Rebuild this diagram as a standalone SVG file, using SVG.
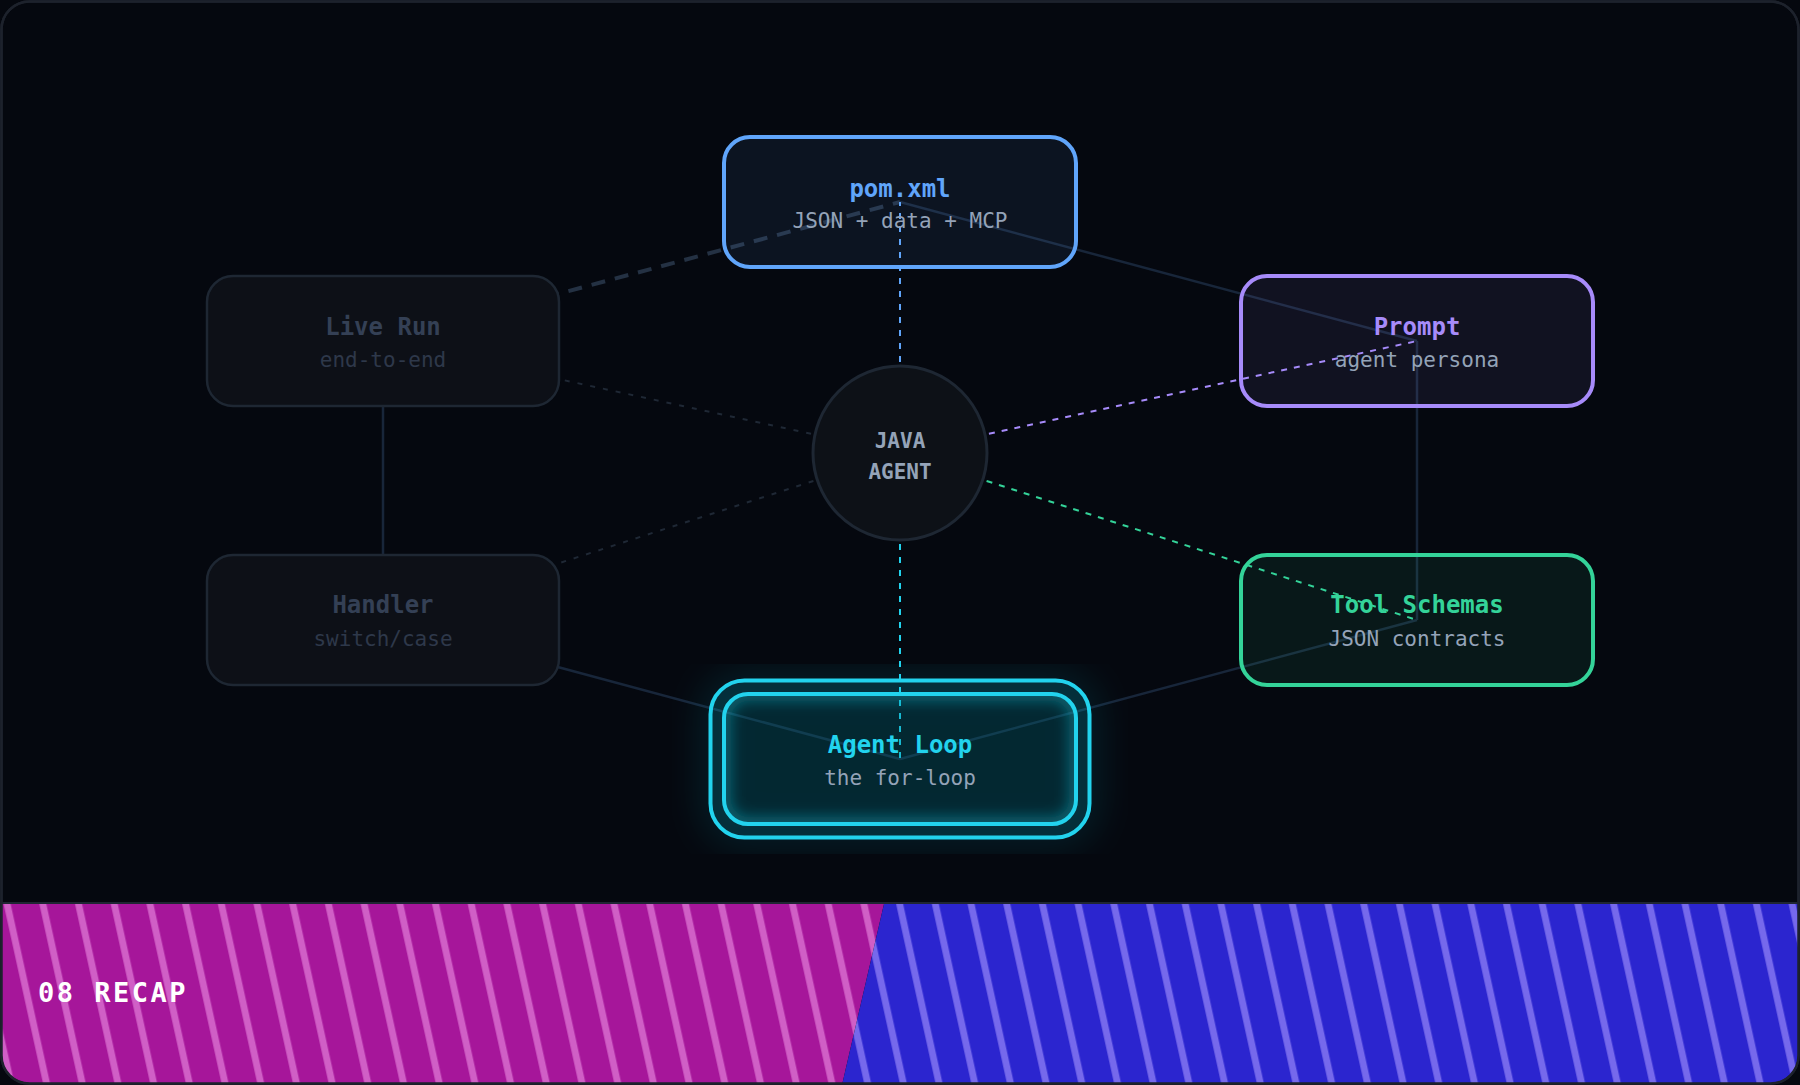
<svg xmlns="http://www.w3.org/2000/svg" width="1800" height="1085" viewBox="0 0 1800 1085">
  <style>
    text { font-family: "DejaVu Sans Mono", "Liberation Mono", monospace; text-anchor: middle; }
    .title { font-size: 24px; font-weight: 700; }
    .sub { font-size: 21px; fill: #94a3b8; }
    .dimtitle { font-size: 24px; font-weight: 700; fill: #344055; }
    .dimsub { font-size: 21px; fill: #2e384a; }
    .edge { stroke: #18263a; stroke-width: 2.5; fill: none; }
    .edge-dash { stroke: #243143; stroke-width: 4; fill: none; stroke-dasharray: 14 10; }
    .spoke { stroke-width: 2; fill: none; stroke-dasharray: 6 7; }
    .spoke-dim { stroke: #1f2835; stroke-width: 2; fill: none; stroke-dasharray: 5 8; }
    .dimbox { fill: #0d1017; stroke: #1e2733; stroke-width: 2.5; }
  </style>
  <defs>
    <clipPath id="frameClip">
      <rect x="2" y="2" width="1796" height="1081" rx="28"/>
    </clipPath>
    <clipPath id="loopInnerClip">
      <rect x="724" y="694" width="352" height="130" rx="24"/>
    </clipPath>
    <pattern id="stripesPink" patternUnits="userSpaceOnUse" width="35.7" height="20" patternTransform="skewX(12.4)">
      <rect x="0" y="0" width="35.7" height="20" fill="#a6169a"/>
      <rect x="19.1" y="0" width="7" height="20" fill="#d05fc6"/>
    </pattern>
    <pattern id="stripesBlue" patternUnits="userSpaceOnUse" width="35.7" height="20" patternTransform="skewX(12.4)">
      <rect x="0" y="0" width="35.7" height="20" fill="#2b25cf"/>
      <rect x="19.1" y="0" width="7" height="20" fill="#7669ec"/>
    </pattern>
    <filter id="glow">
      <feGaussianBlur in="SourceAlpha" stdDeviation="18" result="b"/>
      <feFlood flood-color="#22d3ee" flood-opacity="0.5"/>
      <feComposite in2="b" operator="in" result="g"/>
      <feMerge>
        <feMergeNode in="g"/>
        <feMergeNode in="SourceGraphic"/>
      </feMerge>
    </filter>
    <filter id="soft" x="-20%" y="-20%" width="140%" height="140%">
      <feGaussianBlur stdDeviation="7"/>
    </filter>
  </defs>

  <!-- background frame -->
  <rect x="0" y="0" width="1800" height="1085" fill="#05080f"/>
  <rect x="1.5" y="1.5" width="1797" height="1082" rx="28" fill="#05080f" stroke="#1d222c" stroke-width="2.5"/>

  <!-- connectors -->
  <g id="connectors">
    <line class="edge" x1="900" y1="202" x2="1417" y2="341"/>
    <line class="edge" x1="1417" y1="341" x2="1417" y2="620"/>
    <line class="edge" x1="1417" y1="620" x2="900" y2="759"/>
    <line class="edge" x1="900" y1="759" x2="383" y2="620"/>
    <line class="edge" x1="383" y1="620" x2="383" y2="341"/>
    <line class="edge-dash" x1="383" y1="341" x2="900" y2="202"/>
    <line class="spoke" stroke="#60a5fa" x1="900" y1="453" x2="900" y2="202"/>
    <line class="spoke" stroke="#a78bfa" x1="900" y1="453" x2="1417" y2="341"/>
    <line class="spoke" stroke="#34d399" x1="900" y1="453" x2="1417" y2="620"/>
    <line class="spoke" stroke="#22d3ee" x1="900" y1="453" x2="900" y2="759"/>
    <line class="spoke-dim" x1="900" y1="453" x2="383" y2="341"/>
    <line class="spoke-dim" x1="900" y1="453" x2="383" y2="620"/>
  </g>

  <!-- center hub -->
  <g id="hub">
    <circle cx="900" cy="453" r="87" fill="#0d1117" stroke="#1e2733" stroke-width="3"/>
    <text x="900" y="448" style="font-size:21px;font-weight:700;fill:#94a3b8">JAVA</text>
    <text x="900" y="479" style="font-size:21px;font-weight:700;fill:#94a3b8">AGENT</text>
  </g>

  <!-- pom.xml -->
  <g id="node-pom">
    <rect x="724" y="137" width="352" height="130" rx="26" fill="#60a5fa" fill-opacity="0.08" stroke="#60a5fa" stroke-width="4"/>
    <text class="title" x="900" y="197" fill="#60a5fa">pom.xml</text>
    <text class="sub" x="900" y="228">JSON + data + MCP</text>
  </g>

  <!-- Prompt -->
  <g id="node-prompt">
    <rect x="1241" y="276" width="352" height="130" rx="26" fill="#a78bfa" fill-opacity="0.08" stroke="#a78bfa" stroke-width="4"/>
    <text class="title" x="1417" y="335" fill="#a78bfa">Prompt</text>
    <text class="sub" x="1417" y="367">agent persona</text>
  </g>

  <!-- Tool Schemas -->
  <g id="node-tools">
    <rect x="1241" y="555" width="352" height="130" rx="26" fill="#34d399" fill-opacity="0.08" stroke="#34d399" stroke-width="4"/>
    <text class="title" x="1417" y="613" fill="#34d399">Tool Schemas</text>
    <text class="sub" x="1417" y="646">JSON contracts</text>
  </g>

  <!-- Live Run -->
  <g id="node-liverun">
    <rect class="dimbox" x="207" y="276" width="352" height="130" rx="26"/>
    <text class="dimtitle" x="383" y="335">Live Run</text>
    <text class="dimsub" x="383" y="367">end-to-end</text>
  </g>

  <!-- Handler -->
  <g id="node-handler">
    <rect class="dimbox" x="207" y="555" width="352" height="130" rx="26"/>
    <text class="dimtitle" x="383" y="613">Handler</text>
    <text class="dimsub" x="383" y="646">switch/case</text>
  </g>

  <!-- Agent Loop (active) -->
  <g id="node-loop">
    <rect x="710.5" y="680.5" width="379" height="157" rx="34" fill="#22d3ee" fill-opacity="0.13" stroke="#22d3ee" stroke-width="4" filter="url(#glow)"/>
    <g clip-path="url(#loopInnerClip)">
      <rect x="724" y="694" width="352" height="130" rx="24" fill="#000000" fill-opacity="0.12"/>
      <rect x="724" y="694" width="352" height="130" rx="24" fill="none" stroke="#22d3ee" stroke-opacity="0.35" stroke-width="14" filter="url(#soft)"/>
    </g>
    <rect x="724" y="694" width="352" height="130" rx="24" fill="none" stroke="#22d3ee" stroke-width="4"/>
    <text class="title" x="900" y="753" fill="#22d3ee">Agent Loop</text>
    <text class="sub" x="900" y="785">the for-loop</text>
  </g>

  <!-- bottom banner -->
  <g id="banner" clip-path="url(#frameClip)">
    <polygon points="0,904 884,904 842,1085 0,1085" fill="url(#stripesPink)"/>
    <polygon points="884,904 1800,904 1800,1085 842,1085" fill="url(#stripesBlue)"/>
    <line x1="0" y1="903" x2="1800" y2="903" stroke="#1f2633" stroke-width="2"/>
    <text x="38" y="1002" style="text-anchor:start;font-size:27px;font-weight:700;fill:#ffffff;letter-spacing:2.5px">08 RECAP</text>
  </g>
  <rect x="1.5" y="1.5" width="1797" height="1082" rx="28" fill="none" stroke="#1d222c" stroke-width="2.5"/>
</svg>
